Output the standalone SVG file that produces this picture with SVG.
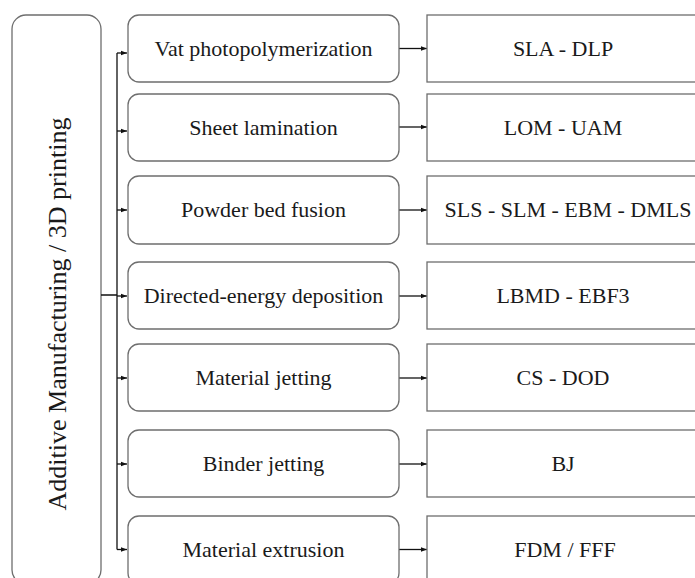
<svg xmlns="http://www.w3.org/2000/svg" width="695" height="578" viewBox="0 0 695 578">
<style>
.box{fill:#fff;stroke:#6e6e6e;stroke-width:1.3}
text{font-family:'Liberation Serif','Times New Roman',serif;fill:#1a1a1a;text-anchor:middle}
.t{font-size:22px}
.big{font-size:26px}
.c{stroke:#111;stroke-width:1.3;fill:none}
</style>
<defs>
<marker id="ah" markerWidth="6" markerHeight="6" refX="6" refY="3" orient="auto" markerUnits="userSpaceOnUse">
<path d="M0,0.8 L6,3 L0,5.2 z" fill="#111"/>
</marker>
</defs>
<rect width="695" height="578" fill="#fff"/>
<g id="root">
<rect class="box" x="12" y="15" width="89" height="569" rx="14"/>
<text class="big" transform="translate(66,314) rotate(-90)">Additive Manufacturing / 3D printing</text>
</g>
<g id="connectors">
<path class="c" d="M101,295 H117 M117,53 V549.5"/>
<path class="c" marker-end="url(#ah)" d="M117,53 H127"/>
<path class="c" marker-end="url(#ah)" d="M117,131 H127"/>
<path class="c" marker-end="url(#ah)" d="M117,210 H127"/>
<path class="c" marker-end="url(#ah)" d="M117,296 H127"/>
<path class="c" marker-end="url(#ah)" d="M117,378 H127"/>
<path class="c" marker-end="url(#ah)" d="M117,464 H127"/>
<path class="c" marker-end="url(#ah)" d="M117,549.5 H127"/>
<path class="c" marker-end="url(#ah)" d="M399,48.5 H427"/>
<path class="c" marker-end="url(#ah)" d="M399,127 H427"/>
<path class="c" marker-end="url(#ah)" d="M399,210 H427"/>
<path class="c" marker-end="url(#ah)" d="M399,296 H427"/>
<path class="c" marker-end="url(#ah)" d="M399,378 H427"/>
<path class="c" marker-end="url(#ah)" d="M399,464 H427"/>
<path class="c" marker-end="url(#ah)" d="M399,549.5 H427"/>
</g>
<g id="m1"><rect class="box" x="128" y="15" width="271" height="67" rx="11"/><text class="t" x="263.5" y="55.5">Vat photopolymerization</text></g>
<g id="m2"><rect class="box" x="128" y="94" width="271" height="67" rx="11"/><text class="t" x="263.5" y="135">Sheet lamination</text></g>
<g id="m3"><rect class="box" x="128" y="176" width="271" height="68" rx="11"/><text class="t" x="263.5" y="217">Powder bed fusion</text></g>
<g id="m4"><rect class="box" x="128" y="262" width="271" height="67" rx="11"/><text class="t" x="263.5" y="303">Directed-energy deposition</text></g>
<g id="m5"><rect class="box" x="128" y="344" width="271" height="67" rx="11"/><text class="t" x="263.5" y="385">Material jetting</text></g>
<g id="m6"><rect class="box" x="128" y="430" width="271" height="67" rx="11"/><text class="t" x="263.5" y="471">Binder jetting</text></g>
<g id="m7"><rect class="box" x="128" y="516" width="271" height="68" rx="11"/><text class="t" x="263.5" y="557">Material extrusion</text></g>
<g id="r1"><rect class="box" x="427" y="15" width="280" height="67"/><text class="t" x="563" y="55.5">SLA - DLP</text></g>
<g id="r2"><rect class="box" x="427" y="94" width="280" height="67"/><text class="t" x="563" y="135">LOM - UAM</text></g>
<g id="r3"><rect class="box" x="427" y="176" width="280" height="68"/><text class="t" x="568" y="217">SLS - SLM - EBM - DMLS</text></g>
<g id="r4"><rect class="box" x="427" y="262" width="280" height="67"/><text class="t" x="563" y="303">LBMD - EBF3</text></g>
<g id="r5"><rect class="box" x="427" y="344" width="280" height="67"/><text class="t" x="563" y="385">CS - DOD</text></g>
<g id="r6"><rect class="box" x="427" y="430" width="280" height="67"/><text class="t" x="563" y="471">BJ</text></g>
<g id="r7"><rect class="box" x="427" y="516" width="280" height="68"/><text class="t" x="565" y="557">FDM / FFF</text></g>
</svg>
